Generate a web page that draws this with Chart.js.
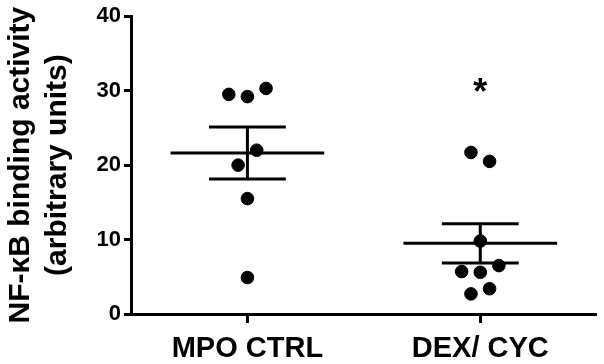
<!DOCTYPE html>
<html lang="en">
<head>
    <meta charset="UTF-8">
    <title>NF-kB binding activity</title>
    <style>
        body { margin: 0; background: #fff; }
    </style>
</head>
<body>
    <canvas id="myChart" width="604" height="364"></canvas>
    <script src="https://cdn.jsdelivr.net/npm/chart.js"></script>
    <script>
        // data
        const categories = ['MPO CTRL', 'DEX/ CYC'];
        const mpoValues = [29.5, 29.2, 30.3, 22.0, 20.0, 15.5, 4.9];
        const mpoJitter = [-0.08, 0, 0.08, 0.04, -0.04, 0, 0];
        const dexValues = [21.7, 20.5, 9.8, 6.5, 5.7, 5.6, 2.7, 3.4];
        const dexJitter = [-0.04, 0.04, 0, 0.08, -0.08, 0, -0.04, 0.04];
        const yTicks = [0, 10, 20, 30, 40];
        const sigMarks = ['', '*'];
        const sigLevel = [null, 31.0];

        Chart.defaults.font.family = "'Liberation Sans', Arial, sans-serif";
        Chart.defaults.color = '#000';

        // mean and standard error of the mean
        function meanSem(arr) {
            const m = arr.reduce((a, b) => a + b, 0) / arr.length;
            const sd = Math.sqrt(arr.reduce((a, b) => a + (b - m) * (b - m), 0) / (arr.length - 1));
            return [m, sd / Math.sqrt(arr.length)];
        }

        function segment(x1, x2, y1, y2) {
            return {
                type: 'line',
                data: [{x: x1, y: y1}, {x: x2, y: y2}],
                borderColor: '#000',
                borderWidth: 3,
                pointRadius: 0,
                showLine: true,
                borderCapStyle: 'butt'
            };
        }

        const groups = [[mpoValues, mpoJitter], [dexValues, dexJitter]];

        const pointSets = groups.map(([vals, jit], i) => ({
            type: 'scatter',
            data: vals.map((v, k) => ({x: i + 1 + jit[k], y: v})),
            backgroundColor: '#000',
            borderColor: '#000',
            pointRadius: 6.3,
            pointHoverRadius: 6.3
        }));

        const barSets = [];
        groups.forEach(([vals], i) => {
            const c = i + 1;
            const [m, sem] = meanSem(vals);
            barSets.push(segment(c - 0.33, c + 0.33, m, m));
            barSets.push(segment(c, c, m - sem, m + sem));
            barSets.push(segment(c - 0.165, c + 0.165, m + sem, m + sem));
            barSets.push(segment(c - 0.165, c + 0.165, m - sem, m - sem));
        });

        // asterisk above the treated group
        const sigPlugin = {
            id: 'sig',
            afterDatasetsDraw(chart) {
                const {ctx, scales: {x, y}} = chart;
                ctx.save();
                ctx.font = "bold 36px 'Liberation Sans', Arial";
                ctx.fillStyle = '#000';
                ctx.textAlign = 'center';
                ctx.textBaseline = 'alphabetic';
                sigMarks.forEach((s, i) => {
                    if (!s) return;
                    ctx.fillText(s, x.getPixelForValue(i + 1), y.getPixelForValue(sigLevel[i]) + 21);
                });
                ctx.restore();
            }
        };

        const ctx = document.getElementById('myChart').getContext('2d');
        new Chart(ctx, {
            type: 'scatter',
            data: { datasets: [...pointSets, ...barSets] },
            options: {
                responsive: false,
                animation: false,
                layout: { padding: { top: 9, right: 2, left: 0, bottom: 0 } },
                plugins: {
                    legend: { display: false },
                    tooltip: { enabled: false }
                },
                scales: {
                    x: {
                        type: 'linear',
                        min: 0.5,
                        max: 2.5,
                        afterBuildTicks: s => { s.ticks = categories.map((c, i) => ({value: i + 1})); },
                        afterFit: s => { s.height = 50; },
                        ticks: {
                            callback: v => categories[v - 1],
                            font: { size: 29, weight: 'bold' },
                            padding: 9,
                            maxRotation: 0,
                            autoSkip: false
                        },
                        grid: {
                            drawOnChartArea: false,
                            drawTicks: true,
                            tickLength: 9,
                            tickWidth: 3,
                            tickColor: '#000'
                        },
                        border: { color: '#000', width: 3 }
                    },
                    y: {
                        min: 0,
                        max: 40,
                        afterBuildTicks: s => { s.ticks = yTicks.map(v => ({value: v})); },
                        afterFit: s => { s.width = 131; },
                        ticks: {
                            font: { size: 22, weight: 'bold' },
                            padding: 3
                        },
                        grid: {
                            drawOnChartArea: false,
                            drawTicks: true,
                            tickLength: 7,
                            tickWidth: 3,
                            tickColor: '#000'
                        },
                        border: { color: '#000', width: 3 },
                        title: {
                            display: true,
                            text: ['NF-\u03baB binding activity', '(arbitrary units)'],
                            font: { size: 30, weight: 'bold', lineHeight: 1.23 },
                            padding: { top: 2, bottom: 0 }
                        }
                    }
                }
            },
            plugins: [sigPlugin]
        });
    </script>
</body>
</html>
